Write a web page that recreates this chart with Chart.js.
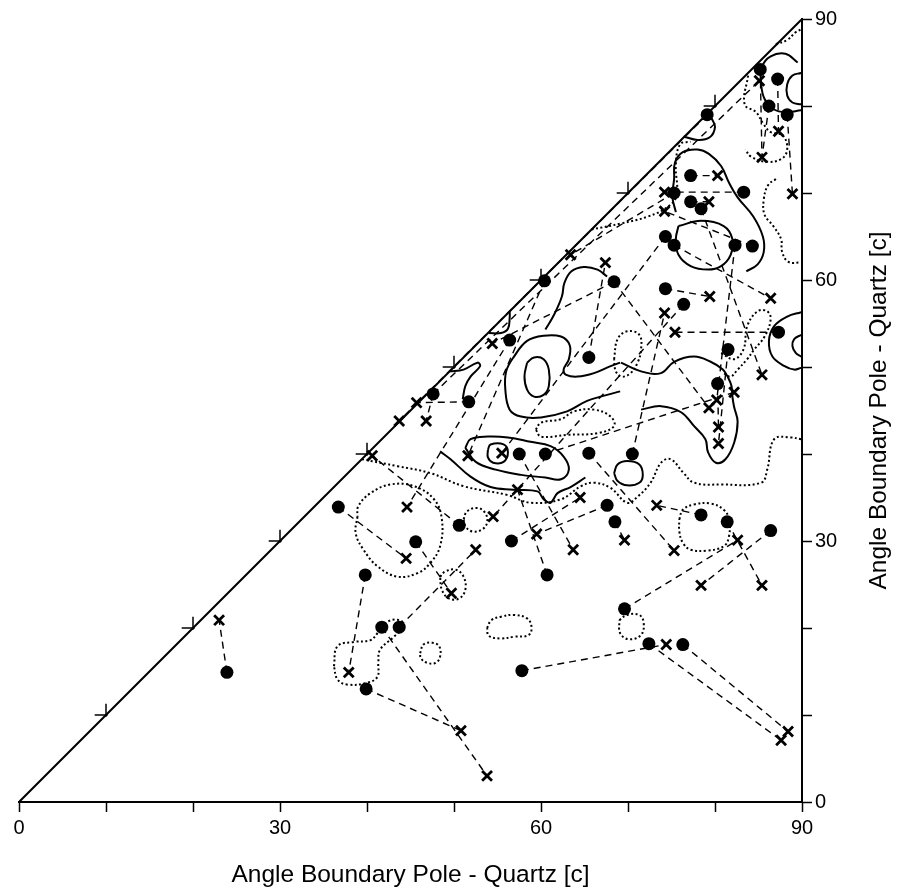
<!DOCTYPE html>
<html>
<head>
<meta charset="utf-8">
<script src="https://cdn.jsdelivr.net/npm/chart.js@4/dist/chart.umd.min.js"></script>
<style>
  html, body { margin: 0; padding: 0; background: #fff; }
  canvas { display: block; }
</style>
</head>
<body>
<canvas id="chart" width="900" height="891"></canvas>
<script>
// filled dots and x marks (angle to boundary pole, degrees)
const circles = [
  [85.2,84.2],[87.2,83.1],[86.2,80.0],[88.3,79.0],[79.1,79.0],[77.2,72.0],[75.3,70.0],[77.2,69.0],
  [78.4,68.2],[83.3,70.1],[74.3,65.0],[75.3,64.0],[82.3,64.0],[84.3,63.9],[68.4,59.8],[74.3,59.0],
  [76.4,57.2],[65.5,51.1],[87.3,54.0],[81.5,52.0],[80.3,48.1],[65.5,40.1],[70.5,40.0],[60.4,59.9],
  [56.4,53.1],[47.6,46.9],[51.7,46.0],[57.5,40.0],[60.5,40.0],[36.7,33.9],[50.6,31.8],[45.6,29.9],
  [56.6,30.0],[39.8,26.1],[60.7,26.1],[67.6,34.1],[68.5,32.2],[78.4,33.0],[81.4,32.2],[86.4,31.2],
  [69.6,22.2],[72.4,18.2],[76.3,18.1],[41.7,20.1],[43.7,20.1],[23.9,14.9],[39.9,13.0],[57.8,15.1]
];
const crosses = [
  [85.1,82.9],[87.3,77.1],[85.4,74.1],[88.9,69.9],[80.3,72.0],[74.2,70.1],[79.3,69.0],[74.2,67.9],
  [63.4,62.9],[67.4,62.0],[79.4,58.1],[86.4,57.9],[74.2,56.2],[75.4,54.0],[85.4,49.1],[82.2,47.1],
  [80.2,46.2],[79.3,45.3],[80.4,43.1],[80.4,41.2],[54.4,52.7],[45.7,45.9],[43.7,43.8],[46.8,43.8],
  [40.6,39.8],[51.6,39.8],[55.5,40.1],[57.3,35.9],[44.6,33.9],[54.5,32.8],[59.5,30.8],[64.5,35.0],
  [52.5,29.0],[44.5,28.0],[63.7,29.0],[49.7,24.0],[69.6,30.1],[73.3,34.1],[75.3,28.9],[82.6,30.1],
  [78.4,24.9],[85.4,24.9],[74.4,18.1],[23.0,20.9],[37.9,14.9],[50.8,8.2],[53.8,3.0],[87.6,7.1],
  [88.4,8.1]
];
// dashed links: [dot no., cross no.]
const links = [
  [46,44],[44,47],[47,46],[45,33],[34,45],[30,34],[32,36],[31,25],[48,43],[42,48],[43,49],[41,40],
  [39,42],[40,41],[38,38],[36,31],[33,32],[37,37],[22,39],[28,35],[35,28],[25,29],[16,11],[12,12],
  [19,14],[20,20],[21,19],[15,18],[13,17],[9,15],[29,16],[23,13],[5,23],[1,3],[26,1],[2,2],[3,3],
  [4,4],[6,5],[10,6],[8,7],[14,8],[7,9],[18,10],[24,26],[27,22],[26,24],[17,30],[11,27],[15,21]
];

// density contours
const solidLines = [
  [[89.5,85.0],[88.1,86.0],[86.4,85.7],[85.4,84.5],[85.3,82.6],[85.7,80.8],[86.8,79.6],[88.1,79.3],[89.9,79.5]],
  [[89.9,83.8],[88.9,83.5],[88.3,82.5],[88.3,81.2],[88.9,80.4],[89.9,80.2]],
  [[76.4,76.5],[78.0,76.1],[79.4,76.4],[80.0,77.6],[79.6,78.6]],
  [[75.5,67.8],[75.1,69.6],[75.3,71.6],[75.4,73.5],[76.3,74.7],[78.0,75.0],[79.3,74.5],[80.7,73.1],[81.6,71.2],[82.6,69.5],[84.4,67.3],[85.5,65.0],[85.6,63.2],[84.9,61.8],[83.6,61.0]],
  [[75.8,66.2],[75.5,64.7],[75.8,62.9],[77.2,61.6],[79.2,61.2],[80.7,61.6],[81.8,62.9],[82.0,64.7],[81.0,66.2],[78.4,66.8],[75.8,66.2]],
  [[58.4,50.5],[59.2,51.1],[60.3,50.9],[60.9,49.7],[60.9,47.8],[60.3,46.8],[59.2,46.6],[58.4,47.4],[58.1,48.9],[58.4,50.5]],
  [[69.1,47.2],[67.6,46.8],[65.3,46.1],[63.0,44.9],[60.0,44.2],[57.7,44.3],[56.4,45.1],[55.9,47.4],[56.0,49.5],[56.9,51.2],[58.4,53.0],[60.3,53.6],[62.3,53.5],[63.3,52.5],[63.2,50.9],[62.6,49.7],[62.9,49.1],[64.2,48.9],[66.1,49.3],[68.0,50.1],[69.1,50.5]],
  [[69.2,50.5],[71.5,49.5],[73.8,49.3],[75.3,50.6],[77.6,51.2],[79.5,50.6],[80.9,49.7],[81.5,48.8],[81.9,47.8],[82.0,46.6],[82.2,45.4],[82.6,43.7],[82.2,41.3],[81.2,39.4],[80.1,39.0],[79.2,40.2],[78.9,41.7],[77.6,43.2],[76.1,44.8],[73.8,45.5],[71.5,45.1]],
  [[89.9,56.3],[88.3,55.8],[86.8,54.7],[86.2,53.0],[86.6,51.2],[88.0,50.1],[89.1,49.7],[89.9,49.9]],
  [[89.9,53.7],[89.1,53.2],[88.9,52.4],[89.3,51.6],[89.9,51.2]],
  [[49.5,49.5],[51.1,49.7],[52.7,50.5],[53.0,50.1],[51.9,48.9],[51.3,47.8],[51.0,46.3]],
  [[51.3,40.7],[51.9,41.7],[53.9,42.0],[56.2,41.9],[58.8,41.4],[61.1,40.9],[62.6,39.7],[63.2,38.2],[62.3,37.1],[60.5,37.3],[57.7,37.6],[54.8,38.2],[52.5,39.1],[51.3,40.7]],
  [[53.9,40.5],[54.2,41.1],[55.7,41.1],[56.2,40.2],[55.7,39.1],[54.5,39.0],[53.9,39.6],[53.9,40.5]],
  [[48.4,40.3],[49.6,39.4],[51.9,37.4],[54.2,36.2],[56.8,35.9],[59.6,35.7],[60.3,34.8],[61.1,34.4],[61.9,35.5],[63.4,36.2],[65.1,37.3]],
  [[68.4,37.8],[68.8,38.8],[69.9,39.2],[71.3,38.8],[71.7,37.6],[71.3,36.7],[69.9,36.4],[68.8,36.9],[68.4,37.8]],
  [[54.0,53.9],[55.4,53.9],[56.2,54.4],[56.4,55.7],[56.4,56.4]],
  [[60.5,54.3],[61.5,56.0],[62.4,58.1],[62.7,59.7],[63.5,61.0],[64.9,61.5],[66.5,61.2],[67.6,60.4]]
];
const dottedLines = [
  [[38.9,32.8],[38.7,30.9],[39.6,29.0],[41.2,27.1],[43.5,25.9],[45.8,26.3],[47.3,27.5],[48.4,29.4],[48.6,32.5],[47.7,34.8],[45.4,36.3],[42.7,36.5],[40.4,35.5],[39.0,34.0],[38.9,32.8]],
  [[39.4,39.4],[43.5,38.6],[47.3,37.8],[51.1,36.3],[56.1,35.3],[58.8,34.4],[62.3,34.8],[64.6,36.3],[66.1,36.7],[68.0,36.1],[69.9,34.4],[71.1,35.1],[72.6,36.7],[73.8,39.0],[74.9,39.4],[76.4,37.8],[77.6,36.7],[80.7,36.5],[85.3,36.7],[86.0,38.2],[86.8,41.7],[88.7,41.9],[89.9,41.7]],
  [[51.1,32.5],[51.5,33.4],[52.7,33.8],[53.6,33.2],[53.8,32.1],[53.2,31.3],[52.1,31.1],[51.3,31.7],[51.1,32.5]],
  [[48.4,25.9],[49.0,26.5],[50.2,26.7],[51.1,25.9],[51.3,24.4],[50.6,23.4],[49.4,23.4],[48.6,24.4],[48.4,25.9]],
  [[46.1,17.1],[46.5,18.1],[47.5,18.3],[48.3,17.9],[48.4,16.7],[47.9,16.0],[46.9,16.0],[46.2,16.5],[46.1,17.1]],
  [[53.8,20.0],[54.3,20.9],[55.4,21.3],[56.9,21.5],[58.4,21.1],[58.9,20.2],[58.6,19.2],[56.9,19.0],[55.4,18.8],[54.0,19.1],[53.8,20.0]],
  [[69.0,20.9],[69.9,21.5],[71.3,21.5],[71.8,20.6],[71.5,19.2],[70.1,18.7],[69.1,19.4],[69.0,20.9]],
  [[75.9,32.5],[76.3,33.6],[77.6,34.2],[79.5,34.3],[81.0,33.6],[81.6,32.5],[81.6,30.5],[81.0,29.4],[79.1,28.9],[77.2,29.0],[76.3,29.8],[75.9,31.1],[75.9,32.5]],
  [[36.2,15.6],[36.6,17.9],[38.5,18.4],[40.4,18.6],[41.2,19.4],[42.3,20.7],[43.8,20.9],[44.2,20.2],[43.1,19.0],[41.5,17.5],[41.3,16.0],[41.2,14.4],[40.0,13.7],[37.7,13.5],[36.6,14.1],[36.2,15.6]],
  [[59.4,42.8],[60.0,43.6],[62.3,44.0],[63.8,44.9],[66.1,45.1],[68.0,44.3],[68.4,43.2],[66.5,42.4],[63.0,42.2],[60.0,42.0],[59.4,42.8]],
  [[68.4,50.9],[68.8,53.2],[69.9,54.1],[71.3,53.7],[71.5,52.0],[71.1,50.5],[70.3,49.3],[69.3,48.9],[68.6,49.5],[68.4,50.9]],
  [[80.7,51.6],[82.2,50.9],[83.3,52.1],[83.7,54.7],[84.9,56.4],[86.0,56.4],[86.4,55.5],[85.7,53.5],[84.5,52.0],[83.7,50.9],[82.6,49.7],[81.8,48.9],[81.0,49.3]],
  [[87.0,71.6],[86.1,70.9],[85.6,69.2],[85.7,67.5],[86.7,66.2],[87.6,64.7],[87.7,63.3],[88.4,62.1],[89.9,62.0]],
  [[83.8,83.5],[83.4,80.2],[84.7,79.3],[85.6,77.9],[86.4,77.0],[87.8,76.6],[88.3,75.0],[87.6,73.9],[85.8,73.6],[84.1,74.2],[83.5,75.0]],
  [[65.8,65.8],[69.2,66.5],[72.3,67.3],[74.7,68.5],[75.6,69.8],[75.5,73.3],[76.0,75.6],[77.2,75.9]],
  [[87.0,87.1],[88.3,87.6],[89.3,88.5],[89.9,88.8]]
];

const diagTicks = [10, 20, 30, 40, 50, 60, 70, 80];
const labelTicks = [0, 30, 60, 90];
const axisTitle = 'Angle Boundary Pole - Quartz [c]';

const FONT = '"Liberation Sans", Arial, sans-serif';
const BLACK = '#000';
const pts = arr => arr.map(([x, y]) => ({ x, y }));
const lineSet = (data, extra) => Object.assign({
  data: pts(data), showLine: true, pointRadius: 0, borderColor: BLACK,
  borderWidth: 2, fill: false, order: 2
}, extra);

const datasets = [];
datasets.push({
  data: pts(circles), pointStyle: 'circle', pointRadius: 6.5, pointHoverRadius: 6.5,
  backgroundColor: BLACK, borderColor: BLACK, borderWidth: 0, showLine: false, order: 0, clip: false
});
datasets.push({
  data: pts(crosses), pointStyle: 'crossRot', pointRadius: 7, pointHoverRadius: 7,
  borderColor: BLACK, borderWidth: 2.8, showLine: false, order: 0, clip: false
});
links.forEach(([c, k]) => {
  datasets.push(lineSet([circles[c - 1], crosses[k - 1]], { borderWidth: 1.4, borderDash: [7, 5], order: 1 }));
});
solidLines.forEach(l => datasets.push(lineSet(l, { tension: 0.4 })));
dottedLines.forEach(l => datasets.push(lineSet(l, { tension: 0.4, borderDash: [2, 2.5] })));
datasets.push(lineSet([[0, 0], [90, 90]], { order: 1 }));
diagTicks.forEach(v => {
  datasets.push(lineSet([[v - 1.3, v], [v + 0.2, v]], { borderWidth: 1.5, order: 1, clip: false }));
  datasets.push(lineSet([[v, v - 0.2], [v, v + 1.3]], { borderWidth: 1.5, order: 1, clip: false }));
});

// right-hand title reads bottom to top
const yTitle = {
  id: 'yTitle',
  afterDraw(chart) {
    const { ctx, chartArea } = chart;
    ctx.save();
    ctx.translate(879, (chartArea.top + chartArea.bottom) / 2);
    ctx.rotate(-Math.PI / 2);
    ctx.font = '24.5px ' + FONT;
    ctx.fillStyle = BLACK;
    ctx.textAlign = 'center';
    ctx.textBaseline = 'middle';
    ctx.fillText(axisTitle, 0, 0);
    ctx.restore();
  }
};

const tickCfg = {
  stepSize: 10, autoSkip: false, maxRotation: 0, color: BLACK,
  font: { family: FONT, size: 20 },
  callback: v => labelTicks.includes(v) ? String(v) : ''
};

new Chart(document.getElementById('chart'), {
  type: 'scatter',
  data: { datasets },
  plugins: [yTitle],
  options: {
    responsive: false,
    animation: false,
    devicePixelRatio: 1,
    layout: { padding: { left: 19, top: 19, right: 0, bottom: 0 } },
    plugins: { legend: { display: false }, tooltip: { enabled: false } },
    scales: {
      x: {
        type: 'linear', min: 0, max: 90, position: 'bottom',
        ticks: Object.assign({ padding: 4 }, tickCfg),
        grid: { drawOnChartArea: false, drawTicks: true, tickLength: 10, color: BLACK, tickWidth: 1.5 },
        border: { display: true, color: BLACK, width: 2 },
        title: { display: true, text: axisTitle, color: BLACK, font: { family: FONT, size: 24.5 }, padding: { top: 0, bottom: 1 } },
        afterFit: s => { s.height = 89; }
      },
      y: {
        type: 'linear', min: 0, max: 90, position: 'right',
        ticks: Object.assign({ padding: 3 }, tickCfg),
        grid: { drawOnChartArea: false, drawTicks: true, tickLength: 10, color: BLACK, tickWidth: 1.5 },
        border: { display: true, color: BLACK, width: 2 },
        afterFit: s => { s.width = 98; }
      }
    }
  }
});
</script>
</body>
</html>
